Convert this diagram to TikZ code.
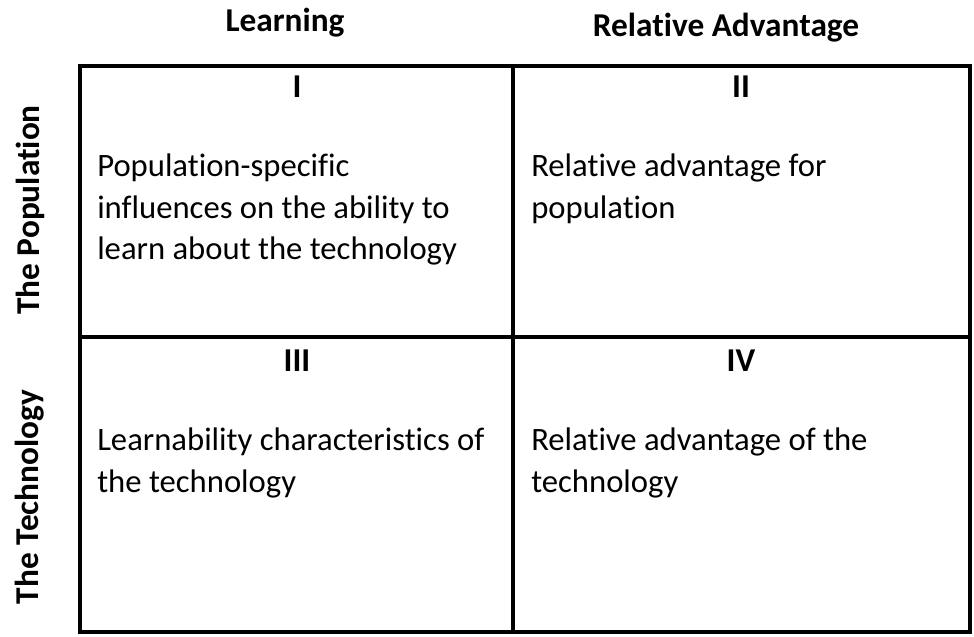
\documentclass[tikz,border=0pt]{standalone}
\usepackage{fontspec}
\setmainfont[Ligatures=NoCommon]{Carlito}
\usepackage{tikz}
\usetikzlibrary{positioning}

\begin{document}
\begin{tikzpicture}[x=0.75pt, y=-0.75pt,
  cell/.style={draw, line width=3pt, inner sep=0pt},
  head/.style={font=\fontsize{25}{30}\selectfont\bfseries},
  numeral/.style={font=\fontsize{25}{30}\selectfont\bfseries},
  body/.style={font=\fontsize{24.5}{31}\selectfont, align=left, anchor=north west, inner sep=0pt}]
  \useasboundingbox (0,0) rectangle (974,636);
  % the four quadrants
  \draw [cell] (80,66) rectangle (513,337);
  \draw [cell] (513,66) rectangle (970,337);
  \draw [cell] (80,337) rectangle (513,632);
  \draw [cell] (513,337) rectangle (970,632);
  % column and row headings
  \node (learn) at (285,23) [head] {Learning};
  \node (adv) at (726,28) [head] {Relative Advantage};
  \node (pop) at (30,210) [head, rotate=90] {The Population};
  \node (tech) at (30,497) [head, rotate=90] {The Technology};
  % numerals
  \node (n1) at (297,87) [numeral] {I};
  \node (n2) at (741,87) [numeral] {II};
  \node (n3) at (297,361) [numeral] {III};
  \node (n4) at (741,361) [numeral] {IV};
  % cell texts
  \node (t1) at (97,154) [body] {Population-specific\\influences on the ability to\\learn about the technology};
  \node (t2) at (531,154) [body] {Relative advantage for\\population};
  \node (t3) at (97,428) [body] {Learnability characteristics of\\the technology};
  \node (t4) at (531,428) [body] {Relative advantage of the\\technology};
\end{tikzpicture}
\end{document}
